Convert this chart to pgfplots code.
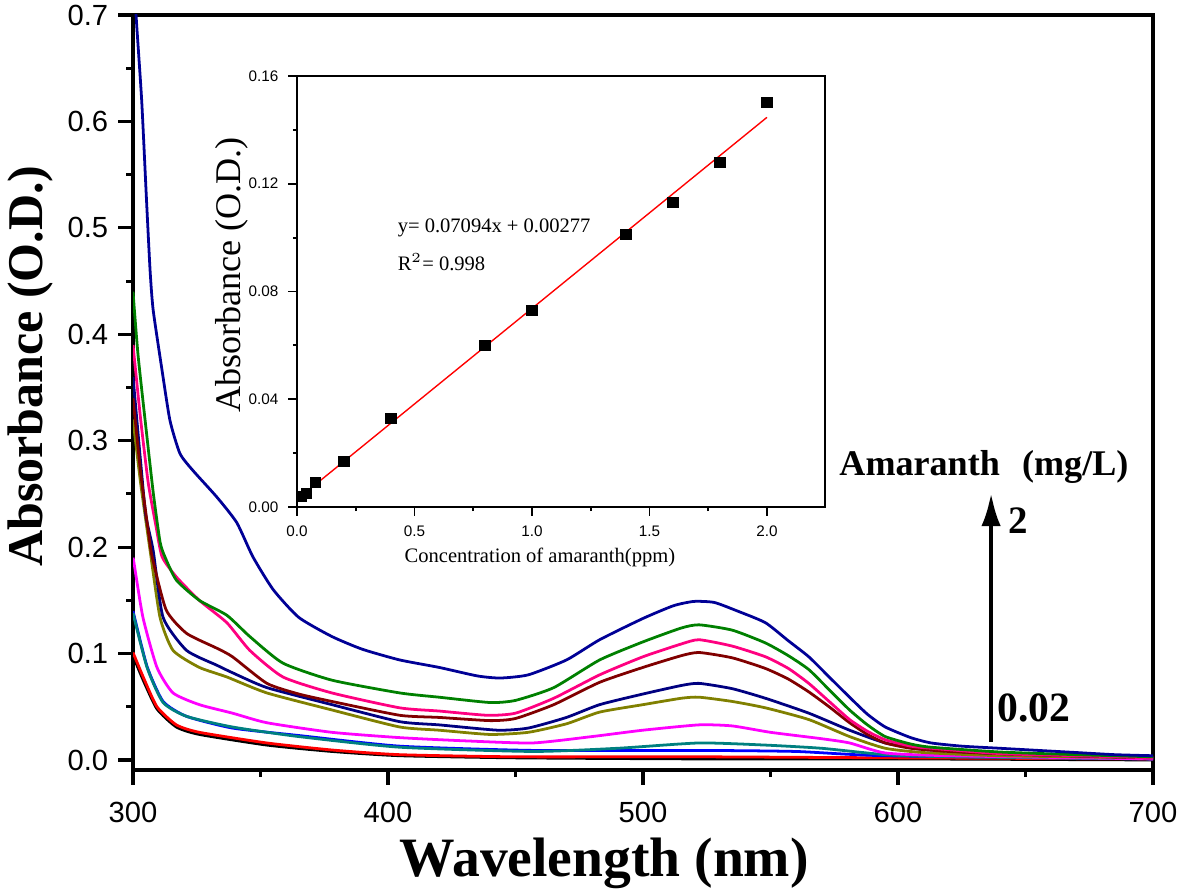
\documentclass[border=0pt]{standalone}
\usepackage{fontspec}
\setmainfont{Liberation Serif}
\newfontfamily\arial{Liberation Sans}
\usepackage{pgfplots}
\pgfplotsset{compat=1.18}
\usetikzlibrary{arrows.meta}
\definecolor{cA}{RGB}{0,0,150}
\definecolor{cB}{RGB}{0,128,0}
\definecolor{cC}{RGB}{255,0,128}
\definecolor{cD}{RGB}{128,0,0}
\definecolor{cE}{RGB}{0,0,128}
\definecolor{cF}{RGB}{128,128,0}
\definecolor{cG}{RGB}{255,0,255}
\definecolor{cH}{RGB}{0,128,128}
\definecolor{cI}{RGB}{0,0,255}
\definecolor{cJ}{RGB}{255,0,0}
\definecolor{cK}{RGB}{0,0,0}
\begin{document}
\begin{tikzpicture}
\useasboundingbox (-47.88pt,-42.84pt) rectangle (377.28pt,277.2pt);
\begin{axis}[
  at={(0pt,0pt)}, anchor=south west, scale only axis,
  width=367.2pt, height=271.8pt,
  xmin=300, xmax=700, ymin=-0.0094, ymax=0.7,
  xtick={300,400,500,600,700}, minor xtick={350,450,550,650},
  ytick={0,0.1,0.2,0.3,0.4,0.5,0.6,0.7},
  minor ytick={0.05,0.15,0.25,0.35,0.45,0.55,0.65},
  xtick pos=left, ytick pos=left, tick align=outside,
  major tick length=5.4pt, minor tick length=2.5pt,
  axis line style={line width=1.1pt},
  every tick/.style={black, line width=1.1pt},
  tick label style={font=\arial\fontsize{10.5}{12}\selectfont},
  /pgf/number format/assume math mode=true,
  yticklabel style={/pgf/number format/.cd, fixed, fixed zerofill, precision=1},
  xticklabel style={yshift=-2.8pt, /pgf/number format/.cd, fixed, precision=0, 1000 sep={}},
  xlabel={Wavelength (nm)},
  ylabel={Absorbance (O.D.)},
  xlabel style={font=\fontsize{20}{24}\selectfont\bfseries, at={(axis description cs:0.462,-0.124)}, anchor=center},
  ylabel style={font=\fontsize{18}{22}\selectfont\bfseries, at={(axis description cs:-0.101,0.535)}, anchor=center},
  every axis plot/.append style={line width=1pt, smooth, tension=0.35},
]
\addplot[cK] coordinates {(300,0.098)(304,0.075)(309.4,0.048)(317,0.031)(326,0.024)(352.5,0.014)(378,0.008)(404.6,0.004)(450,0.002)(522,0.001)(600,0.001)(700,0.0)};
\addplot[cJ] coordinates {(300,0.101)(304,0.078)(309.4,0.050)(317,0.033)(326,0.026)(352.5,0.016)(378,0.0094)(404.6,0.005)(450,0.003)(522,0.003)(600,0.002)(700,0.001)};
\addplot[cI] coordinates {(300,0.14)(305.5,0.088)(311.8,0.055)(321,0.041)(339,0.030)(365,0.023)(404.6,0.013)(456.7,0.009)(522,0.009)(560,0.008)(595,0.004)(700,0.001)};
\addplot[cH] coordinates {(300,0.138)(305.5,0.087)(311.8,0.054)(321,0.041)(339,0.031)(365,0.022)(404.6,0.012)(456.7,0.008)(490,0.011)(522,0.016)(548,0.014)(570,0.011)(595,0.005)(620,0.003)(700,0.001)};
\addplot[cG] coordinates {(300,0.19)(300.4,0.185)(303.9,0.134)(309.4,0.087)(315.7,0.063)(326,0.052)(339,0.044)(352.5,0.035)(378,0.026)(404.6,0.021)(430,0.018)(456.7,0.016)(480,0.022)(500,0.028)(522,0.033)(535,0.032)(550,0.026)(570,0.020)(581,0.016)(595,0.0066)(620,0.004)(700,0.001)};
\addplot[cF] coordinates {(300,0.32)(303,0.26)(306.7,0.197)(310.6,0.134)(315.7,0.103)(326,0.087)(336.8,0.078)(352.5,0.063)(378,0.047)(404.6,0.031)(420,0.028)(440,0.024)(455,0.026)(470,0.034)(483,0.045)(500,0.052)(515,0.058)(522,0.059)(535,0.055)(548,0.049)(565,0.038)(581,0.022)(595,0.011)(610,0.007)(640,0.004)(700,0.002)};
\addplot[cE] coordinates {(300,0.36)(303,0.28)(305,0.23)(307.9,0.197)(311.8,0.134)(321,0.103)(332.9,0.089)(339,0.082)(352.5,0.068)(378,0.052)(404.6,0.036)(420,0.033)(443,0.028)(455,0.030)(470,0.040)(483,0.052)(500,0.062)(515,0.070)(522,0.072)(535,0.067)(548,0.058)(565,0.044)(581,0.028)(595,0.016)(610,0.010)(640,0.006)(700,0.002)};
\addplot[cD] coordinates {(300,0.34)(303,0.27)(306,0.215)(307.5,0.191)(313,0.141)(321,0.119)(332.9,0.105)(339,0.097)(352.5,0.072)(365,0.062)(378,0.055)(404.6,0.042)(420,0.040)(440,0.037)(450,0.039)(465,0.052)(483,0.073)(500,0.087)(515,0.098)(522,0.101)(535,0.096)(548,0.086)(557,0.076)(565,0.064)(573,0.050)(581,0.035)(588,0.024)(595,0.016)(605,0.011)(620,0.008)(650,0.005)(700,0.002)};
\addplot[cC] coordinates {(300,0.39)(303,0.32)(306,0.26)(309,0.22)(311.4,0.191)(317,0.172)(326,0.150)(336.8,0.129)(345.8,0.103)(358.8,0.078)(378,0.063)(404.6,0.049)(420,0.046)(439,0.042)(450,0.044)(465,0.058)(483,0.080)(500,0.097)(515,0.109)(522,0.113)(535,0.107)(548,0.097)(557,0.086)(565,0.072)(573,0.055)(581,0.038)(588,0.027)(595,0.019)(605,0.013)(613,0.011)(640,0.006)(670,0.004)(700,0.002)};
\addplot[cB] coordinates {(300,0.44)(302,0.38)(305.5,0.303)(308,0.25)(310.6,0.205)(312.5,0.191)(317,0.169)(326,0.150)(336.8,0.136)(345.8,0.116)(358.8,0.091)(378,0.075)(404.6,0.063)(420,0.059)(440,0.054)(450,0.056)(465,0.068)(483,0.094)(500,0.111)(515,0.124)(522,0.127)(535,0.122)(548,0.110)(557,0.098)(565,0.085)(573,0.066)(581,0.047)(588,0.033)(595,0.022)(605,0.015)(613,0.012)(640,0.0075)(670,0.005)(700,0.003)};
\addplot[cA] coordinates {(300,0.76)(301.2,0.70)(303.4,0.62)(305.3,0.526)(306.7,0.46)(307.9,0.423)(311.4,0.366)(314.5,0.319)(318.4,0.288)(323.5,0.272)(332.9,0.247)(340.7,0.223)(347,0.191)(355,0.16)(365,0.134)(378,0.116)(390,0.104)(404.6,0.094)(420,0.087)(435,0.079)(444,0.077)(455,0.080)(470,0.094)(483,0.113)(500,0.133)(512,0.145)(520,0.149)(528,0.148)(537,0.140)(548,0.129)(557,0.112)(565,0.097)(573,0.078)(581,0.059)(588,0.043)(595,0.031)(605,0.021)(613,0.016)(625,0.013)(640,0.011)(655,0.009)(670,0.007)(685,0.005)(700,0.004)};
\draw[line width=1.6pt, -{Latex[length=12pt,width=7pt]}] (axis cs:636.5,0.017) -- (axis cs:636.5,0.251);
\node[font=\fontsize{13}{15}\selectfont\bfseries] at (axis cs:633.7,0.275) {Amaranth\hspace{8pt}(mg/L)};
\node[font=\fontsize{14}{16}\selectfont\bfseries] at (axis cs:647,0.225) {2};
\node[font=\fontsize{15}{17}\selectfont\bfseries] at (axis cs:653.3,0.0488) {0.02};
\end{axis}
\begin{axis}[
  at={(59.04pt,94.68pt)}, anchor=south west, scale only axis,
  width=190.08pt, height=155.16pt,
  xmin=0, xmax=2.247, ymin=0, ymax=0.16,
  xtick={0,0.5,1,1.5,2}, minor xtick={0.25,0.75,1.25,1.75,2.25},
  ytick={0,0.04,0.08,0.12,0.16}, minor ytick={0.02,0.06,0.10,0.14},
  xtick pos=left, ytick pos=left, tick align=outside,
  major tick length=3.2pt, minor tick length=1.5pt,
  axis line style={line width=0.7pt},
  every tick/.style={black, line width=0.7pt},
  tick label style={font=\arial\fontsize{5.5}{6.5}\selectfont},
  /pgf/number format/assume math mode=true,
  yticklabel style={/pgf/number format/.cd, fixed, fixed zerofill, precision=2},
  xticklabel style={/pgf/number format/.cd, fixed, fixed zerofill, precision=1},
  xlabel={Concentration of amaranth(ppm)},
  ylabel={Absorbance (O.D.)},
  xlabel style={font=\fontsize{7.4}{9}\selectfont, at={(axis description cs:0.46,-0.118)}, anchor=center},
  ylabel style={font=\fontsize{13}{15}\selectfont, at={(axis description cs:-0.123,0.538)}, anchor=center},
]
\addplot[red, line width=0.5pt] coordinates {(0.02,0.00419)(2.0,0.14465)};
\addplot[only marks, mark=square*, mark size=1.8pt, black] coordinates {(0.02,0.004)(0.04,0.005)(0.08,0.009)(0.2,0.017)(0.4,0.033)(0.8,0.060)(1.0,0.073)(1.4,0.101)(1.6,0.113)(1.8,0.128)(2.0,0.150)};
\node[anchor=west, font=\fontsize{7.4}{9}\selectfont] at (axis cs:0.387,0.1035) {y= 0.07094x + 0.00277};
\node[anchor=west, font=\fontsize{7.4}{9}\selectfont] at (axis cs:0.387,0.0908) {R$^{2}$= 0.998};
\end{axis}
\end{tikzpicture}
\end{document}
